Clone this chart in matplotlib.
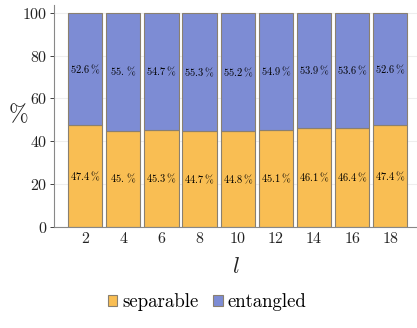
import matplotlib
matplotlib.use("Agg")
import matplotlib.pyplot as plt
import numpy as np

plt.rcParams['font.family'] = ['cmr10', 'DejaVu Serif']
plt.rcParams['mathtext.fontset'] = 'cm'
plt.rcParams['axes.formatter.use_mathtext'] = True

# data
lengths = [2, 4, 6, 8, 10, 12, 14, 16, 18]
separable = [47.4, 45.0, 45.3, 44.7, 44.8, 45.1, 46.1, 46.4, 47.4]
entangled = [52.6, 55.0, 54.7, 55.3, 55.2, 54.9, 53.9, 53.6, 52.6]
sep_labels = ["47.4", "45.", "45.3", "44.7", "44.8", "45.1", "46.1", "46.4", "47.4"]
ent_labels = ["52.6", "55.", "54.7", "55.3", "55.2", "54.9", "53.9", "53.6", "52.6"]

orange = '#F9BE53'
blue = '#7D8CD4'
edge = '#8a8070'

fig = plt.figure(figsize=(4.17, 3.28), dpi=100)
ax = fig.add_axes([0.13, 0.308, 0.87, 0.677])

x = np.arange(len(lengths))
w = 0.9
b1 = ax.bar(x, separable, w, color=orange, edgecolor=edge, linewidth=0.8, label='separable', zorder=2)
b2 = ax.bar(x, entangled, w, bottom=separable, color=blue, edgecolor=edge, linewidth=0.8,
            label='entangled', zorder=2)

for i in range(len(x)):
    ax.text(x[i], separable[i] / 2, '$' + sep_labels[i] + r'\,\%$', ha='center', va='center',
            fontsize=7.5, zorder=3)
    ax.text(x[i], separable[i] + entangled[i] / 2, '$' + ent_labels[i] + r'\,\%$', ha='center',
            va='center', fontsize=7.5, zorder=3)

ax.set_xlim(-0.81, 8.7)
ax.set_ylim(0, 103.7)
ax.set_xticks(x)
ax.set_xticklabels([str(v) for v in lengths])
ax.set_yticks([0, 20, 40, 60, 80, 100])
ax.tick_params(labelsize=11.5, colors='#222222', length=3, width=0.6, direction='in', pad=4)
ax.tick_params(axis='y', direction='out', pad=2)
ax.yaxis.grid(True, color='#eeeeee', linewidth=0.8, zorder=0)
ax.set_axisbelow(True)

for s in ['top', 'right']:
    ax.spines[s].set_visible(False)
for s in ['left', 'bottom']:
    ax.spines[s].set_color('#888888')
    ax.spines[s].set_linewidth(0.8)

ax.set_xlabel('$l$', fontsize=16, color='#222222', labelpad=8)
fig.text(0.02, 0.65, '%', fontsize=17, color='#222222', ha='left', va='center')

fig.legend(handles=[b1, b2], labels=['separable', 'entangled'], loc='center',
           bbox_to_anchor=(0.497, 0.078), ncol=2, frameon=False, fontsize=13.5,
           handlelength=0.5, handleheight=0.5, handletextpad=0.25, columnspacing=0.8)

fig.savefig('out.png', dpi=100)
